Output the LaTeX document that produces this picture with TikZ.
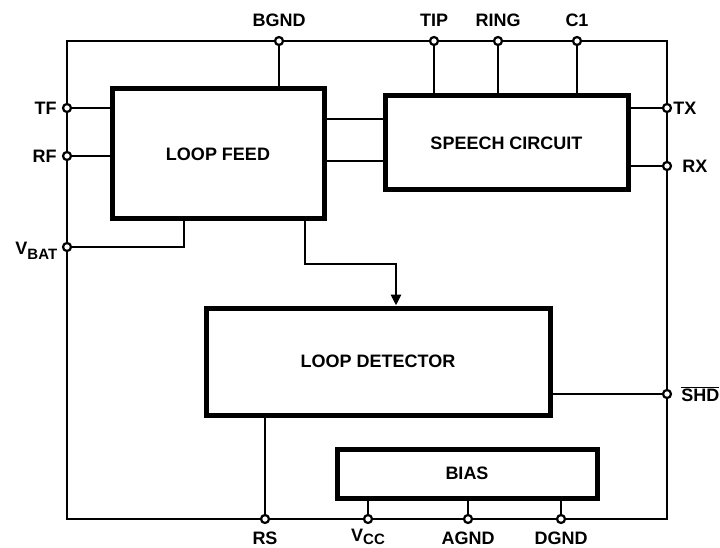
\documentclass[tikz,border=0pt]{standalone}
\usepackage{fontspec}
\setmainfont{Liberation Sans}
\usetikzlibrary{positioning,arrows.meta}

\tikzset{
  wire/.style={line width=2.8pt},
  block/.style={draw, line width=5pt, inner sep=0pt,
    font=\fontsize{18}{20}\selectfont\bfseries},
  pinpt/.style={circle, draw, fill=white, line width=2.2pt,
    minimum size=8pt, inner sep=0pt},
  pinlbl/.style={inner sep=1pt, font=\fontsize{18}{20}\selectfont\bfseries},
}
\newcommand{\sublow}[2][-5pt]{\raisebox{#1}{\fontsize{15}{15}\selectfont #2}}

\begin{document}
\begin{tikzpicture}[x=1pt, y=-1pt]
\useasboundingbox (0,0) rectangle (720,548);

\def\frameL{67} % outer frame
\def\frameR{667}
\def\frameT{41}
\def\frameB{519}

% blocks
\node[block, minimum width=212pt, minimum height=130pt] (feed) at (218,154) {LOOP FEED};
\node[block, minimum width=243pt, minimum height=94pt] (speech) at (506.5,143) {SPEECH CIRCUIT};
\node[block, minimum width=344pt, minimum height=107pt] (det) at (378,361.5) {LOOP DETECTOR};
\node[block, minimum width=260pt, minimum height=49pt] (bias) at (467,473.5) {BIAS};

% frame
\draw[wire] (\frameL,\frameT) rectangle (\frameR,\frameB);

% pins
\foreach \p/\x in {bgnd/279, tip/434, ring/498, c1/577}
    \node[pinpt] (\p) at (\x,\frameT) {};
\foreach \p/\y in {tf/108, rf/156, vbat/247}
    \node[pinpt] (\p) at (\frameL,\y) {};
\foreach \p/\y in {tx/108, rx/166, shd/394}
    \node[pinpt] (\p) at (\frameR,\y) {};
\foreach \p/\x in {rs/265, vcc/368, agnd/468, dgnd/561}
    \node[pinpt] (\p) at (\x,\frameB) {};

% pin labels
\foreach \p/\t in {bgnd/BGND, tip/TIP, ring/RING, c1/C1}
    \node[pinlbl, above=8pt of \p] (\p txt) {\t};
\foreach \p/\t in {tf/TF, rf/RF}
    \node[pinlbl, left=4pt of \p] (\p txt) {\t};
\node[pinlbl, left=3.5pt of vbat, yshift=-3.5pt] (vbattxt) {V\sublow{BAT}};
\node[pinlbl, right=0pt of tx] (txtxt) {TX};
\node[pinlbl, right=9pt of rx] (rxtxt) {RX};
\node[pinlbl, right=8pt of shd] (shdtxt) {$\overline{\mbox{SHD}}$};
\foreach \p/\t in {rs/RS, agnd/AGND, dgnd/DGND}
    \node[pinlbl, below=7pt of \p] (\p txt) {\t};
\node[pinlbl, inner sep=0pt, below=5pt of vcc] (vcctxt) {V\sublow[-3pt]{CC}};

% wires
\draw[wire] (bgnd) -- (bgnd |- feed.north);
\foreach \p in {tip, ring, c1}
    \draw[wire] (\p) -- (\p |- speech.north);
\foreach \p in {tf, rf}
    \draw[wire] (\p) -- (\p -| feed.west);
\foreach \p in {tx, rx}
    \draw[wire] (\p) -- (\p -| speech.east);
\draw[wire] (vbat) -| ([xshift=-34pt]feed.south);
\draw[wire] (shd) -- (shd -| det.east);
\draw[wire] (rs) -- (rs |- det.south);
\foreach \p in {vcc, agnd, dgnd}
    \draw[wire] (\p) -- (\p |- bias.south);

% feed <-> speech
\foreach \dy in {35,-7}
    \draw[wire] ([yshift=\dy pt]feed.east) -- ([yshift=\dy pt]feed.east -| speech.west);

% feed -> detector
\coordinate (bend) at (396,264);
\draw[wire, -{Triangle[length=11pt,width=10pt]}]
    ([xshift=87pt]feed.south) |- (bend) -- (bend |- det.north);

\end{tikzpicture}
\end{document}
